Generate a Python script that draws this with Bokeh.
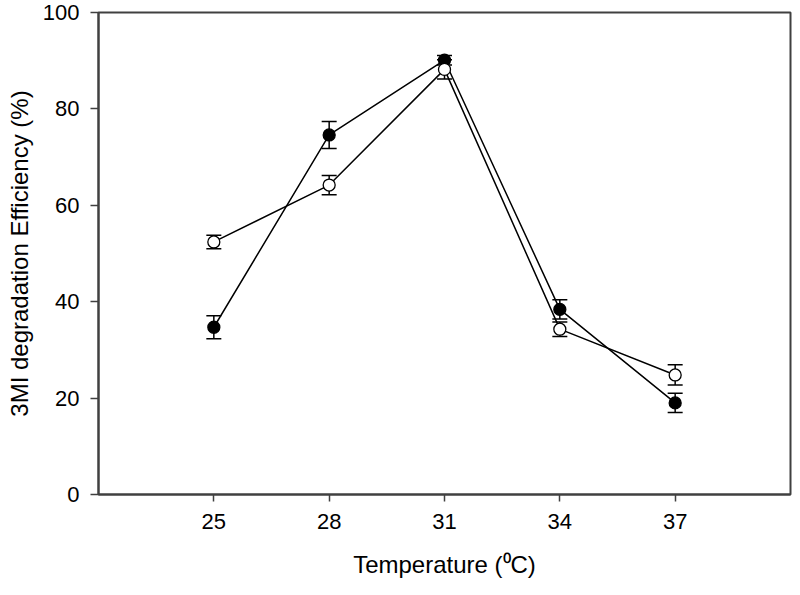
from bokeh.plotting import figure
from bokeh.models import ColumnDataSource, Whisker, TeeHead, Range1d, FixedTicker
from bokeh.embed import file_html
from bokeh.resources import INLINE

temperature = [25, 28, 31, 34, 37]
filled_mean = [34.7, 74.6, 90.1, 38.4, 19.0]
filled_err = [2.4, 2.8, 1.0, 2.0, 2.0]
open_mean = [52.4, 64.2, 88.2, 34.3, 24.8]
open_err = [1.4, 2.0, 2.0, 1.5, 2.1]
x_ticks = [25, 28, 31, 34, 37]
y_ticks = [0, 20, 40, 60, 80, 100]

FONT = "Liberation Sans"

p = figure(width=792, height=587, output_backend="svg", toolbar_location=None,
           x_range=Range1d(22, 40), y_range=Range1d(0, 100),
           min_border_left=98, min_border_right=2, min_border_top=12,
           min_border_bottom=93)

p.xgrid.visible = False
p.ygrid.visible = False
p.background_fill_color = "white"
p.border_fill_color = "white"
p.outline_line_color = "#404040"
p.outline_line_width = 2

for ax in (p.xaxis[0], p.yaxis[0]):
    ax.axis_line_color = "#404040"
    ax.axis_line_width = 2
    ax.major_tick_line_color = "#404040"
    ax.major_tick_line_width = 1.5
    ax.major_tick_in = 0
    ax.minor_tick_line_color = None
    ax.major_label_text_font = FONT
    ax.major_label_text_font_size = "22px"
    ax.major_label_text_color = "black"
    ax.axis_label_text_font = FONT
    ax.axis_label_text_font_size = "24px"
    ax.axis_label_text_font_style = "normal"
    ax.axis_label_text_color = "black"

p.xaxis.ticker = FixedTicker(ticks=x_ticks)
p.yaxis.ticker = FixedTicker(ticks=y_ticks)
p.xaxis.major_tick_out = 7
p.yaxis.major_tick_out = 8
p.xaxis.major_label_standoff = 12
p.yaxis.major_label_standoff = 11
p.xaxis.axis_label = "Temperature (\u2070C)"
p.yaxis.axis_label = "3MI degradation Efficiency (%)"
p.xaxis.axis_label_standoff = 19
p.yaxis.axis_label_standoff = 7

src_f = ColumnDataSource(dict(x=temperature, y=filled_mean,
                              lo=[m - e for m, e in zip(filled_mean, filled_err)],
                              hi=[m + e for m, e in zip(filled_mean, filled_err)]))
src_o = ColumnDataSource(dict(x=temperature, y=open_mean,
                              lo=[m - e for m, e in zip(open_mean, open_err)],
                              hi=[m + e for m, e in zip(open_mean, open_err)]))

for src, fill in ((src_f, "black"), (src_o, "white")):
    p.line("x", "y", source=src, line_color="black", line_width=1.5)
    w = Whisker(source=src, base="x", upper="hi", lower="lo", dimension="height",
                line_color="black", line_width=1.5,
                upper_head=TeeHead(size=15, line_color="black", line_width=1.5),
                lower_head=TeeHead(size=15, line_color="black", line_width=1.5))
    p.add_layout(w)
    p.scatter("x", "y", source=src, size=12, marker="circle", fill_color=fill,
              line_color="black", line_width=1.3)

open("out.html", "w").write(file_html(p, INLINE))
